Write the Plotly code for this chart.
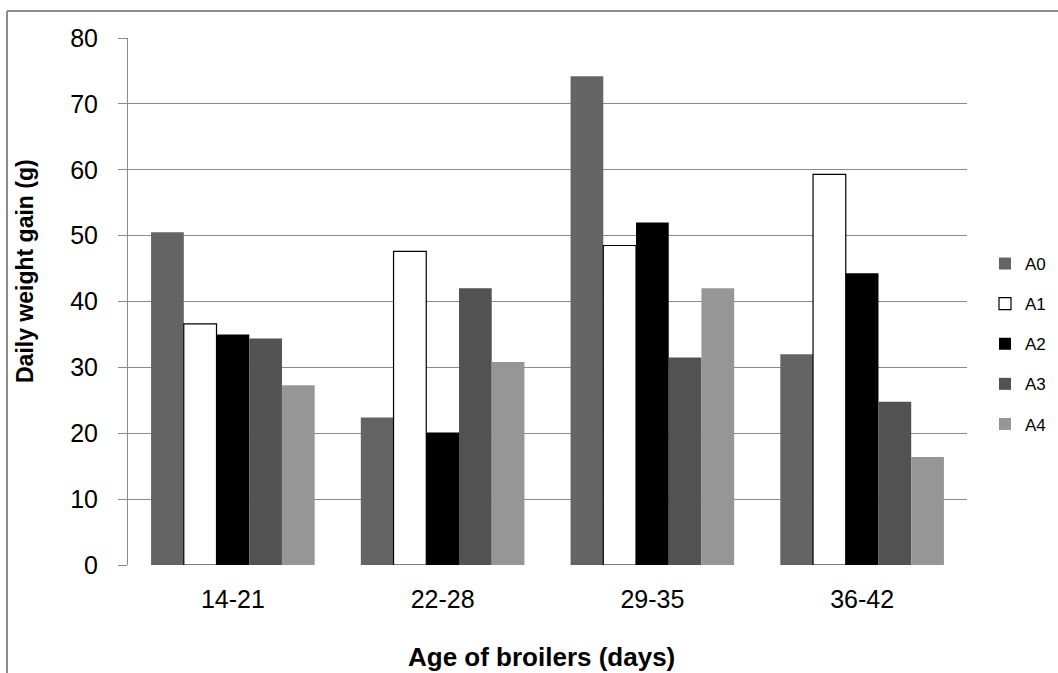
import plotly.graph_objects as go

categories = ["14-21", "22-28", "29-35", "36-42"]
series_names = ["A0", "A1", "A2", "A3", "A4"]
A0 = [50.5, 22.4, 74.2, 32.0]
A1 = [36.6, 47.6, 48.5, 59.3]
A2 = [35.0, 20.1, 52.0, 44.3]
A3 = [34.4, 42.0, 31.5, 24.8]
A4 = [27.3, 30.8, 42.0, 16.4]
y_ticks = [0, 10, 20, 30, 40, 50, 60, 70, 80]
x_title = "Age of broilers (days)"
y_title = "Daily weight gain (g)"

values = [A0, A1, A2, A3, A4]
fills = ["#646464", "#ffffff", "#000000", "#525252", "#969696"]
outlines = ["#646464", "#000000", "#000000", "#525252", "#969696"]

W, H = 1058, 673
L, R, T, B = 128, 91, 38, 108
pw, ph = W - L - R, H - T - B

fig = go.Figure()
for name, vals, fc, lc in zip(series_names, values, fills, outlines):
    fig.add_trace(go.Bar(
        x=categories, y=vals, name=name, legendgroup=name,
        marker=dict(color=fc, line=dict(color=lc, width=1.2 if name == "A1" else 0)),
    ))

def px_x(x):
    return (x - L) / pw

def px_y(y):
    return (H - B - y) / ph

fig.update_layout(
    width=W, height=H,
    margin=dict(l=L, r=R, t=T, b=B, autoexpand=False),
    paper_bgcolor="white", plot_bgcolor="white",
    barmode="group", bargap=0.22, bargroupgap=0,
    font=dict(family="Liberation Sans, Arial, sans-serif", color="#000000"),
    xaxis=dict(
        showgrid=False, showline=False, ticks="",
        tickfont=dict(size=25), ticklabelstandoff=17,
    ),
    yaxis=dict(
        range=[0, 80], tickvals=y_ticks, showgrid=True, gridcolor="#8a8a8a", gridwidth=1,
        showline=True, linecolor="#8a8a8a", linewidth=1,
        ticks="outside", ticklen=9, tickcolor="#8a8a8a",
        tickfont=dict(size=25), ticklabelstandoff=15,
        zeroline=False,
    ),
    legend=dict(
        x=px_x(985), xanchor="left", y=px_y(344), yanchor="middle",
        font=dict(size=17, family="Liberation Sans, Arial, sans-serif"),
        traceorder="grouped", tracegroupgap=15, itemwidth=30,
        bgcolor="rgba(0,0,0,0)",
    ),
    annotations=[
        dict(text="<b>" + x_title + "</b>", xref="paper", yref="paper",
             x=px_x(541), y=px_y(657), xanchor="center", yanchor="middle",
             showarrow=False, font=dict(size=26)),
        dict(text="<b>" + y_title + "</b>", xref="paper", yref="paper",
             x=px_x(25), y=px_y(271), xanchor="center", yanchor="middle",
             textangle=-90, showarrow=False, font=dict(size=23)),
    ],
    shapes=[
        dict(type="line", xref="paper", yref="paper",
             x0=px_x(7), x1=px_x(W + 5), y0=px_y(11), y1=px_y(11),
             line=dict(color="#8c8c8c", width=2)),
        dict(type="line", xref="paper", yref="paper",
             x0=px_x(7), x1=px_x(7), y0=px_y(11), y1=px_y(H + 5),
             line=dict(color="#8c8c8c", width=2)),
    ],
)

fig.write_html("out.html", config={"displayModeBar": False},
               post_script="document.body.style.margin='0';")
